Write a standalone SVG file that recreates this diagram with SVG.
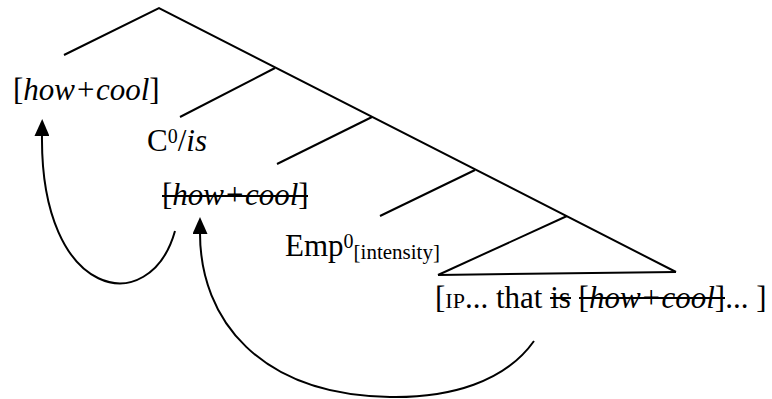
<svg xmlns="http://www.w3.org/2000/svg" width="772" height="399" viewBox="0 0 772 399">
<style>
.t{font-family:"Liberation Serif","Times New Roman",serif;font-size:31px;fill:#000}
.s{font-size:20px}
.i{font-style:italic}
.ln{stroke:#000;stroke-width:2;fill:none}
.st{stroke:#000;stroke-width:2}
</style>
<defs>
<marker id="ah" markerUnits="userSpaceOnUse" viewBox="0 0 17 15" refX="1" refY="7.5" markerWidth="17" markerHeight="15" orient="auto">
<path d="M0,0 L17,7.5 L0,15 z" fill="#000"/>
</marker>
</defs>
<g id="tree">
<path class="ln" d="M64,55 L159,8 L676,272"/>
<path class="ln" d="M180,117 L275,68"/>
<path class="ln" d="M277,164 L372,117"/>
<path class="ln" d="M380,216 L475,170"/>
<path class="ln" d="M438,275 L567,216"/>
<path class="ln" d="M438,275 L676,272"/>
</g>
<g id="n-spec">
<text class="t" x="13" y="100">[<tspan class="i">how+cool</tspan>]</text>
</g>
<g id="n-c">
<text class="t" x="147" y="151">C<tspan class="s" dy="-8">0</tspan><tspan dy="8">/</tspan><tspan class="i">is</tspan></text>
</g>
<g id="n-trace1">
<text class="t" x="162" y="205">[<tspan class="i">how+cool</tspan>]</text>
<line class="st" x1="162" y1="196" x2="308" y2="196"/>
</g>
<g id="n-emp">
<text class="t" x="285" y="256">Emp<tspan class="s" dy="-8">0</tspan><tspan style="font-size:21px" dy="11">[intensity]</tspan></text>
</g>
<g id="n-ip">
<text class="t" x="435" y="308">[<tspan style="font-size:22px">IP</tspan>... that is [<tspan class="i">how+cool</tspan>]... ]</text>
<line class="st" x1="550" y1="298" x2="571" y2="298"/>
<line class="st" x1="579" y1="298" x2="725" y2="298"/>
</g>
<g id="connectors">
<path class="ln" d="M175,231 C150,320 40,300 42,135" marker-end="url(#ah)"/>
<path class="ln" d="M534,341 C505,382 450,398 390,397 C260,395 200,320 200,233" marker-end="url(#ah)"/>
</g>
</svg>
